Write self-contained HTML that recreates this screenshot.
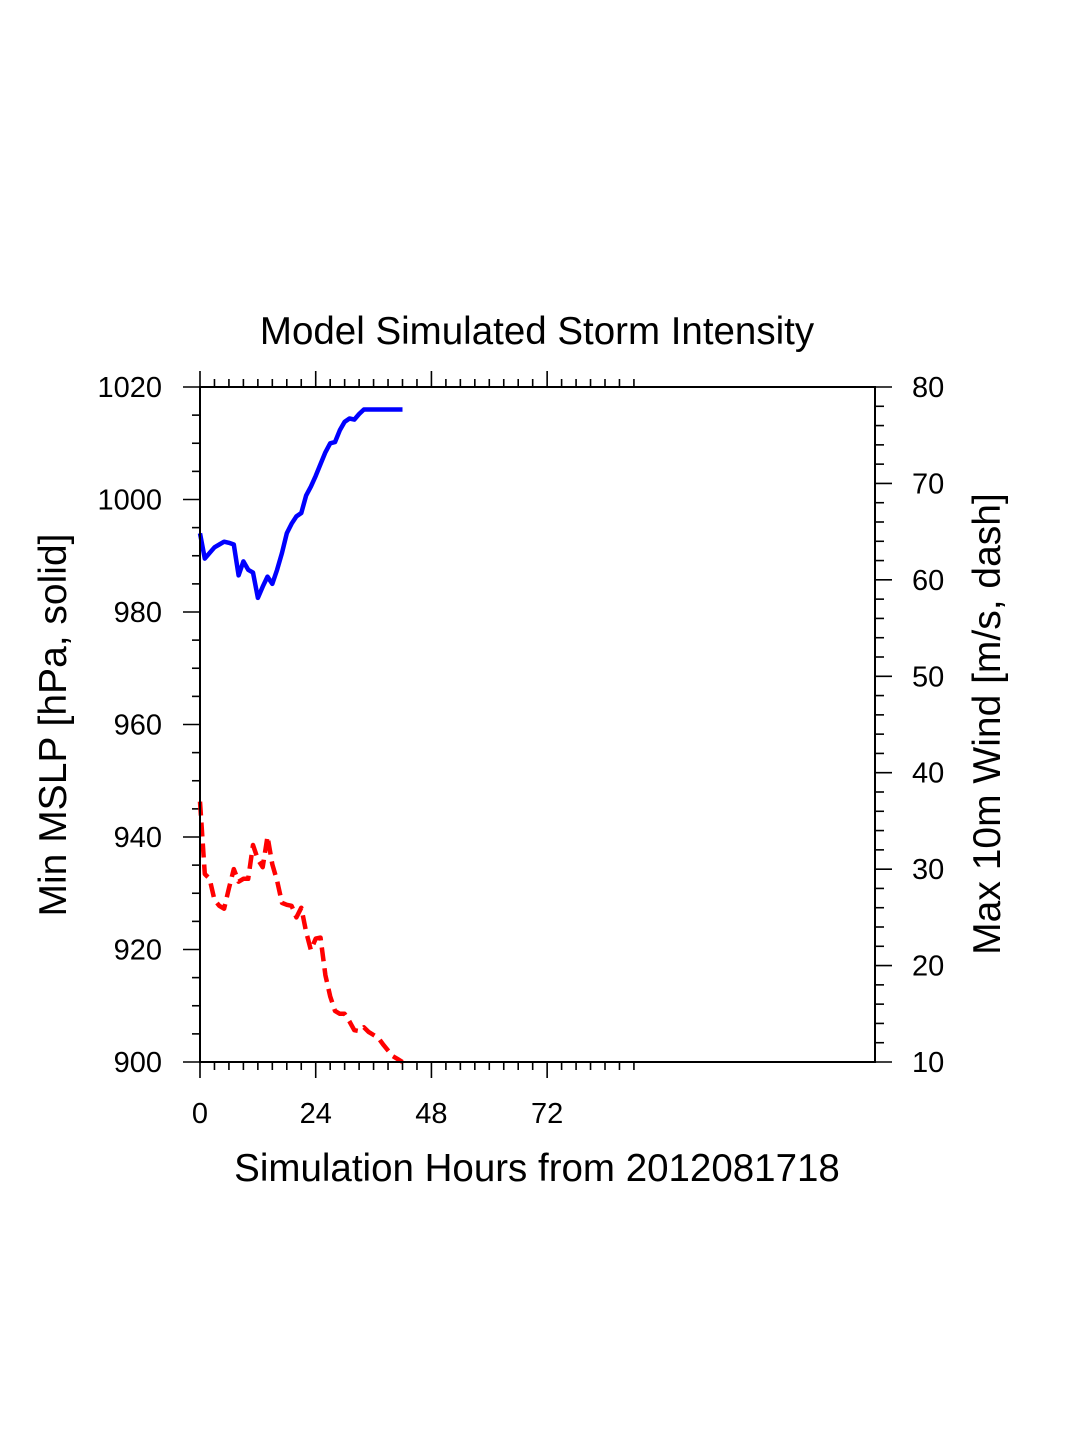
<!DOCTYPE html>
<html><head><meta charset="utf-8"><style>
html,body{margin:0;padding:0;background:#fff;}
svg{display:block;font-family:"Liberation Sans",Arial,sans-serif;}
</style></head><body>
<svg id="chart" width="1075" height="1450" viewBox="0 0 1075 1450" xmlns="http://www.w3.org/2000/svg">
<rect width="1075" height="1450" fill="#fff"/>
<text x="537" y="344" font-size="38.5" text-anchor="middle">Model Simulated Storm Intensity</text>
<text x="537" y="1181" font-size="38.5" text-anchor="middle">Simulation Hours from 2012081718</text>
<text transform="translate(66,725) rotate(-90)" font-size="39" text-anchor="middle">Min MSLP  [hPa, solid]</text>
<text transform="translate(1000,724) rotate(-90)" font-size="39" text-anchor="middle">Max 10m Wind  [m/s, dash]</text>
<g id="ticks"></g>
<g id="series"></g>
<rect x="200" y="387" width="675" height="675" fill="none" stroke="#000" stroke-width="2"/>
</svg>
<script>
const hours = [0,1,2,3,4,5,6,7,8,9,10,11,12,13,14,15,16,17,18,19,20,21,22,23,24,25,26,27,28,29,30,31,32,33,34,35,36,37,38,39,40,41,42];
const mslp = [994,989.5,990.5,991.5,992,992.5,992.3,992,986.5,989,987.5,987,982.5,984.5,986.3,985,987.5,990.5,994,995.7,997,997.6,1000.7,1002.3,1004.2,1006.3,1008.4,1010,1010.2,1012.3,1013.8,1014.4,1014.2,1015.2,1016,1016,1016,1016,1016,1016,1016,1016,1016];
const wind = [37,29.5,29,26.8,26.2,25.9,28,30,28.7,29,29,32.5,31,30.2,33.4,30.5,28.8,26.5,26.3,26.2,25,26,23.5,21.6,22.8,22.9,19,16.8,15.3,15,15,14.2,13.3,13.2,13.6,13.1,12.8,12.5,11.8,11.2,10.6,10.3,10];
const xTickLabels = [0,24,48,72];
const leftTickLabels = [900,920,940,960,980,1000,1020];
const rightTickLabels = [10,20,30,40,50,60,70,80];

const X0=200,X1=875,Y0=387,Y1=1062;
const xs = h => X0 + h*(X1-X0)/140;
const yl = p => Y1 - (p-900)*(Y1-Y0)/120;
const yr = w => Y1 - (w-10)*(Y1-Y0)/70;
const NS="http://www.w3.org/2000/svg";
const tg=document.getElementById('ticks'), sg=document.getElementById('series');
function line(g,x1,y1,x2,y2,name){const l=document.createElementNS(NS,'line');
l.setAttribute('x1',x1);l.setAttribute('y1',y1);l.setAttribute('x2',x2);l.setAttribute('y2',y2);
l.setAttribute('stroke','#000');l.setAttribute('stroke-width','1.6');


g.appendChild(l);}
function text(x,y,s,anchor,name){const t=document.createElementNS(NS,'text');
t.setAttribute('x',x);t.setAttribute('y',y);t.setAttribute('font-size','29');t.setAttribute('text-anchor',anchor);t.textContent=s;


tg.appendChild(t);}
for(let h=0;h<=90;h+=3){const maj=h%24===0;const x=xs(h);
line(tg,x,Y1,x,Y1+(maj?16:8),'x-tick');line(tg,x,Y0,x,Y0-(maj?16:8),'x-tick-top');}
xTickLabels.forEach(v=>text(xs(v),1123,String(v),'middle','x-tick-label'));
for(let p=900;p<=1020;p+=5){const maj=p%20===0;const y=yl(p);line(tg,X0,y,X0-(maj?17:8),y,'left-y-tick');}
leftTickLabels.forEach(v=>text(162,yl(v)+10,String(v),'end','left-y-tick-label'));
for(let w=10;w<=80;w+=2){const maj=w%10===0;const y=yr(w);line(tg,X1,y,X1+(maj?17:9),y,'right-y-tick');}
rightTickLabels.forEach(v=>text(912,yr(v)+10,String(v),'start','right-y-tick-label'));
function path(vals,fy,color,dash,name){const p=document.createElementNS(NS,'path');
p.setAttribute('d',vals.map((v,i)=>(i?'L':'M')+xs(hours[i]).toFixed(1)+','+fy(v).toFixed(1)).join(''));
p.setAttribute('fill','none');p.setAttribute('stroke',color);p.setAttribute('stroke-width','4.5');
p.setAttribute('stroke-linejoin','round');
if(dash)p.setAttribute('stroke-dasharray',dash);


sg.appendChild(p);}
path(mslp,yl,'#0000ff',null,'mslp-line');
path(wind,yr,'#ff0000','14,7','wind-line');
</script>
</body></html>
